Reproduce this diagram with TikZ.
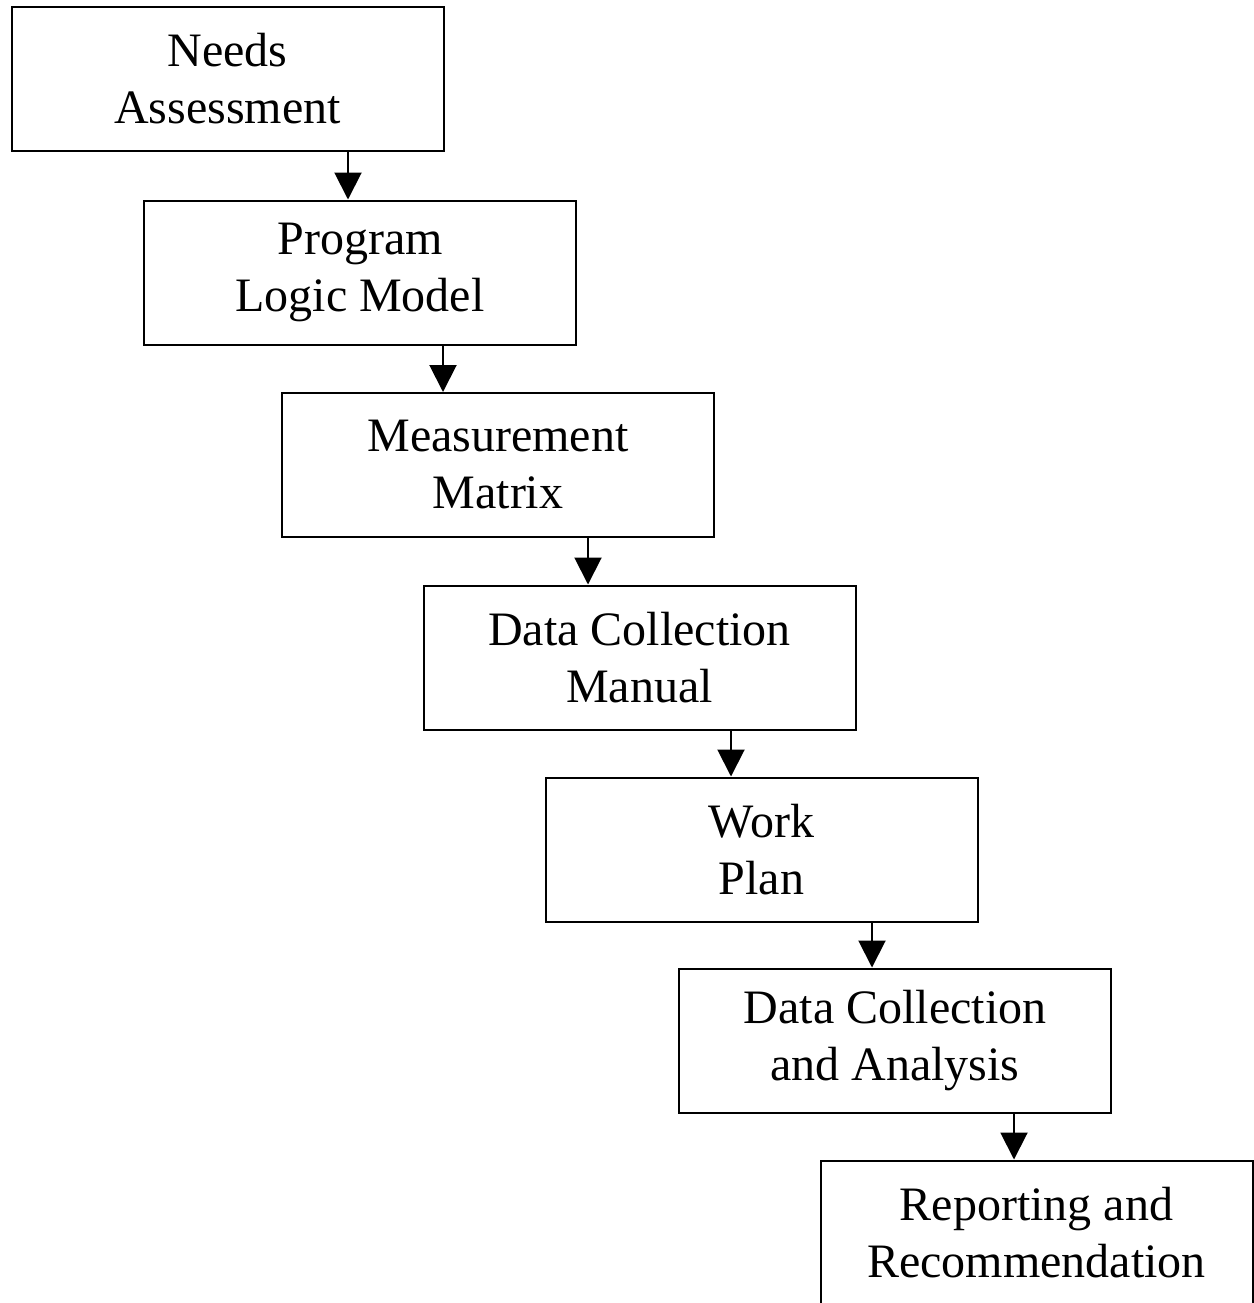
\documentclass[tikz,border=0pt]{standalone}
\usepackage{fontspec}
\setmainfont{Liberation Serif}
\usetikzlibrary{arrows.meta}

\tikzset{
  stage/.style={draw,line width=1pt,minimum width=216pt,minimum height=72pt,
    align=center,inner sep=0pt,font=\fontsize{24}{28.5}\selectfont},
  flow/.style={line width=1pt,-{Triangle[width=13.5pt,length=13.5pt]}}
}

\begin{document}
\begin{tikzpicture}[x=0.5pt,y=-0.5pt]
\useasboundingbox (0,0) rectangle (1254,1303);
\node[stage] (need) at (227.5,79.0) {Needs\\Assessment};
\node[stage] (logic) at (360.0,272.5) {Program\\Logic Model};
\node[stage] (matrix) at (498.0,465.0) {Measurement\\Matrix};
\node[stage] (manual) at (639.5,657.5) {Data Collection\\Manual};
\node[stage] (plan) at (761.5,849.5) {Work\\Plan};
\node[stage] (anal) at (895.0,1040.5) {Data Collection\\and Analysis};
\node[stage] (report) at (1036.5,1232.5) {Reporting and\\Recommendation};
% arrows sit off centre, shifted right of each box's bottom
\foreach \a/\b/\s in {need/logic/60.25pt,logic/matrix/41.5pt,matrix/manual/45pt,
    manual/plan/45.75pt,plan/anal/55.25pt,anal/report/59.5pt}
  \draw[flow] ([xshift=\s]\a.south) coordinate (s) -- (s |- \b.north);
\end{tikzpicture}
\end{document}
